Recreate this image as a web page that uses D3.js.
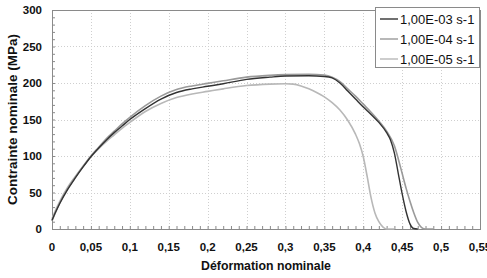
<!DOCTYPE html>
<html>
<head>
<meta charset="utf-8">
<script src="https://cdn.jsdelivr.net/npm/d3@7"></script>
<style>
html,body{margin:0;padding:0;background:#fff;}
svg{display:block;font-family:"Liberation Sans",Arial,sans-serif;}
</style>
</head>
<body>
<svg id="chart" width="487" height="278"></svg>
<script>
// ---- data ----
const seriesNames = ["1,00E-03 s-1", "1,00E-04 s-1", "1,00E-05 s-1"];
const seriesColors = ["#333333", "#9a9a9a", "#b8b8b8"];

const strainA = [0,0.005,0.01,0.02,0.03,0.04,0.05,0.06,0.07,0.08,0.09,0.10,0.12,0.14,0.16,0.18,0.20,0.22,0.25,0.28,0.30,0.33,0.35,0.36,0.37,0.38,0.39,0.40,0.41,0.42,0.43,0.435,0.44,0.445,0.45,0.455,0.46,0.464,0.47];
const stressA = [12,24,35,54,70,85,99,111,122,132,141,150,165,178,187,192,195.5,199,205,208,209.5,210,209,207,200,189,178,167,157,146,132,122,104,76,48,24,7,1,0];

const strainB = [0,0.005,0.01,0.02,0.03,0.04,0.05,0.06,0.07,0.08,0.09,0.10,0.12,0.14,0.16,0.18,0.20,0.22,0.25,0.28,0.30,0.33,0.35,0.36,0.37,0.38,0.39,0.40,0.41,0.42,0.43,0.44,0.445,0.45,0.455,0.46,0.465,0.47,0.475,0.48,0.49];
const stressB = [11,24,36,55,71,86,100,112,124,134,144,153,169,182,191,196,199.5,203,208,210.5,211.5,212,211,208,202,192,182,171,160,148,134,114,96,76,56,38,22,9,2,0,0];

const strainC = [0,0.005,0.01,0.02,0.03,0.04,0.05,0.06,0.07,0.08,0.09,0.10,0.12,0.14,0.16,0.18,0.20,0.22,0.25,0.28,0.30,0.31,0.32,0.33,0.34,0.35,0.36,0.37,0.38,0.39,0.395,0.40,0.405,0.41,0.415,0.42,0.425,0.43,0.44];
const stressC = [14,27,38,57,72,86,99,110,120,129,138,146,161,172,180,185,188.5,192,196.5,198.5,199,198.5,196,192,187,181,173,163,149,130,117,99,72,43,22,10,3,0,0];

const xTicks = [0,0.05,0.1,0.15,0.2,0.25,0.3,0.35,0.4,0.45,0.5,0.55];
const xTickLabels = ["0","0,05","0,1","0,15","0,2","0,25","0,3","0,35","0,4","0,45","0,5","0,55"];
const yTicks = [0,50,100,150,200,250,300];
const xTitle = "Déformation nominale";
const yTitle = "Contrainte nominale (MPa)";

// ---- layout ----
const W = 487, H = 278;
const m = {left: 52, right: 7, top: 10, bottom: 49};
const svg = d3.select("#chart");
const x = d3.scaleLinear().domain([0, 0.55]).range([m.left, W - m.right]);
const y = d3.scaleLinear().domain([0, 300]).range([H - m.bottom, m.top]);

const g = svg.append("g");

// gridlines
g.append("g").selectAll("line").data(xTicks.slice(1, -1)).join("line")
  .attr("x1", d => Math.round(x(d)) + 0.5).attr("x2", d => Math.round(x(d)) + 0.5)
  .attr("y1", y(300)).attr("y2", y(0))
  .attr("stroke", "#cfcfcf").attr("stroke-width", 1).attr("stroke-dasharray", "1,2");
g.append("g").selectAll("line").data(yTicks.slice(1, -1)).join("line")
  .attr("y1", d => Math.round(y(d)) + 0.5).attr("y2", d => Math.round(y(d)) + 0.5)
  .attr("x1", x(0)).attr("x2", x(0.55))
  .attr("stroke", "#cfcfcf").attr("stroke-width", 1).attr("stroke-dasharray", "1,2");

// frame
g.append("rect")
  .attr("x", Math.round(x(0)) + 0.5).attr("y", Math.round(y(300)) + 0.5)
  .attr("width", Math.round(x(0.55)) - Math.round(x(0)))
  .attr("height", Math.round(y(0)) - Math.round(y(300)))
  .attr("fill", "none").attr("stroke", "#8a8a8a").attr("stroke-width", 1);

// axes (ticks inside)
const xMinor = d3.range(0, 0.5501, 0.01);
const yMinor = d3.range(0, 300.1, 10);
const xAxis = d3.axisBottom(x).tickValues(xMinor).tickSize(-3).tickFormat("");
const yAxis = d3.axisLeft(y).tickValues(yMinor).tickSize(-3).tickFormat("");
const gx = g.append("g").attr("transform", `translate(0,${Math.round(y(0))})`).call(xAxis);
const gy = g.append("g").attr("transform", `translate(${Math.round(x(0))},0)`).call(yAxis);
[gx, gy].forEach(a => {
  a.select(".domain").attr("stroke", "#8a8a8a");
  a.selectAll(".tick line").attr("stroke", "#8a8a8a");
});

// tick labels
g.append("g").selectAll("text").data(xTicks).join("text")
  .attr("x", d => x(d)).attr("y", 251)
  .attr("text-anchor", "middle")
  .attr("font-size", 11.5).attr("font-weight", "bold").attr("fill", "#111")
  .text((d, i) => xTickLabels[i]);
g.append("g").selectAll("text").data(yTicks).join("text")
  .attr("x", 42).attr("y", d => y(d) + 4)
  .attr("text-anchor", "end")
  .attr("font-size", 11.5).attr("font-weight", "bold").attr("fill", "#111")
  .text(d => d);

// titles
g.append("text").attr("x", (x(0) + x(0.55)) / 2).attr("y", 270)
  .attr("text-anchor", "middle").attr("font-size", 12.3).attr("font-weight", "bold").attr("fill", "#111")
  .text(xTitle);
g.append("text").attr("transform", `translate(16.5,${(y(0) + y(300)) / 2}) rotate(-90)`)
  .attr("text-anchor", "middle").attr("font-size", 13.5).attr("font-weight", "bold").attr("fill", "#111")
  .text(yTitle);

// lines
const series = [
  {xs: strainA, ys: stressA},
  {xs: strainB, ys: stressB},
  {xs: strainC, ys: stressC}
];
const line = d3.line().x(d => x(d[0])).y(d => y(d[1])).curve(d3.curveMonotoneX);
const order = [2, 1, 0];
order.forEach(i => {
  const s = series[i];
  const pts = s.xs.map((v, k) => [v, s.ys[k]]);
  g.append("path").attr("d", line(pts))
    .attr("fill", "none").attr("stroke", seriesColors[i])
    .attr("stroke-width", i === 0 ? 1.4 : 1.6);
});

// legend
const lg = g.append("g");
lg.append("rect").attr("x", 375.5).attr("y", 7.5).attr("width", 104).attr("height", 60)
  .attr("fill", "#fff").attr("stroke", "#8a8a8a").attr("stroke-width", 1);
seriesNames.forEach((n, i) => {
  const cy = 19 + i * 20;
  lg.append("line").attr("x1", 380).attr("x2", 398).attr("y1", cy).attr("y2", cy)
    .attr("stroke", seriesColors[i]).attr("stroke-width", 1.4);
  lg.append("text").attr("x", 400).attr("y", cy + 4.5)
    .attr("font-size", 13).attr("fill", "#111").text(n);
});
</script>
</body>
</html>
